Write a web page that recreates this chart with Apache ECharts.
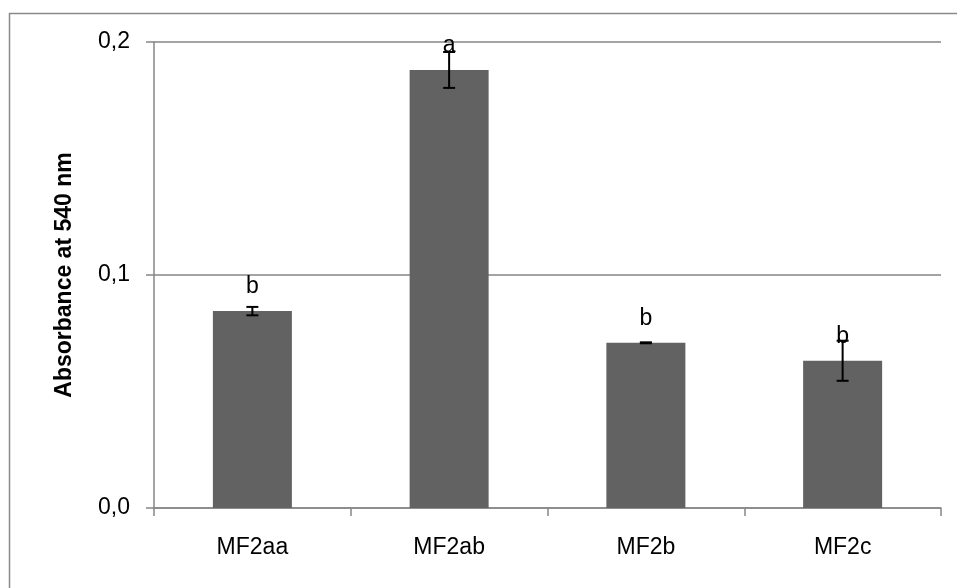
<!DOCTYPE html>
<html>
<head>
<meta charset="utf-8">
<script src="https://cdn.jsdelivr.net/npm/echarts@6/dist/echarts.min.js"></script>
<style>html,body{margin:0;padding:0;background:#fff;}#c{width:957px;height:588px;}</style>
</head>
<body>
<div id="c"></div>
<script>
var categories = ['MF2aa', 'MF2ab', 'MF2b', 'MF2c'];
var means = [0.0845, 0.188, 0.0709, 0.0632];
var errors = [0.0018, 0.0077, 0.0002, 0.0086];
var letters = ['b', 'a', 'b', 'b'];
var yTicks = ['0,0', '0,1', '0,2'];

var chart = echarts.init(document.getElementById('c'), null, {renderer: 'canvas'});
var font = 'Liberation Sans';
chart.setOption({
  animation: false,
  graphic: [{
    type: 'rect',
    shape: {x: 9.5, y: 13.5, width: 1000, height: 700},
    style: {fill: null, stroke: '#8a8a8a', lineWidth: 1.5},
    silent: true
  }],
  grid: {left: 154, right: 16, top: 42, bottom: 80},
  xAxis: {
    type: 'category',
    data: categories,
    axisLine: {lineStyle: {color: '#868686', width: 1.5}},
    axisTick: {show: true, length: 8, lineStyle: {color: '#868686', width: 1.5}},
    axisLabel: {color: '#000', fontFamily: font, fontSize: 23, margin: 28}
  },
  yAxis: {
    type: 'value',
    min: 0, max: 0.2, interval: 0.1,
    name: 'Absorbance at 540 nm',
    nameLocation: 'middle',
    nameGap: 78,
    nameTextStyle: {color: '#000', fontFamily: font, fontSize: 23, fontWeight: 'bold'},
    axisLine: {show: true, lineStyle: {color: '#868686', width: 1.5}},
    axisTick: {show: true, length: 8, lineStyle: {color: '#868686', width: 1.5}},
    splitLine: {lineStyle: {color: '#868686', width: 1.5}},
    axisLabel: {color: '#000', fontFamily: font, fontSize: 23, margin: 24,
      formatter: function (v) { return yTicks[Math.round(v / 0.1)]; }}
  },
  series: [{
    type: 'bar',
    data: means,
    barWidth: 79,
    itemStyle: {color: '#626262'},
    label: {show: true, position: 'top', distance: 13, color: '#000', fontFamily: font, fontSize: 23,
      formatter: function (p) { return letters[p.dataIndex]; }}
  }, {
    type: 'custom',
    data: means.map(function (m, i) { return [i, m - errors[i], m + errors[i]]; }),
    renderItem: function (params, api) {
      var lo = api.coord([api.value(0), api.value(1)]);
      var hi = api.coord([api.value(0), api.value(2)]);
      var x = lo[0], w = 6;
      var st = {stroke: '#000', lineWidth: 2};
      return {type: 'group', children: [
        {type: 'line', shape: {x1: x, y1: lo[1], x2: x, y2: hi[1]}, style: st},
        {type: 'line', shape: {x1: x - w, y1: lo[1], x2: x + w, y2: lo[1]}, style: st},
        {type: 'line', shape: {x1: x - w, y1: hi[1], x2: x + w, y2: hi[1]}, style: st}
      ]};
    },
    z: 10
  }]
});
</script>
</body>
</html>
